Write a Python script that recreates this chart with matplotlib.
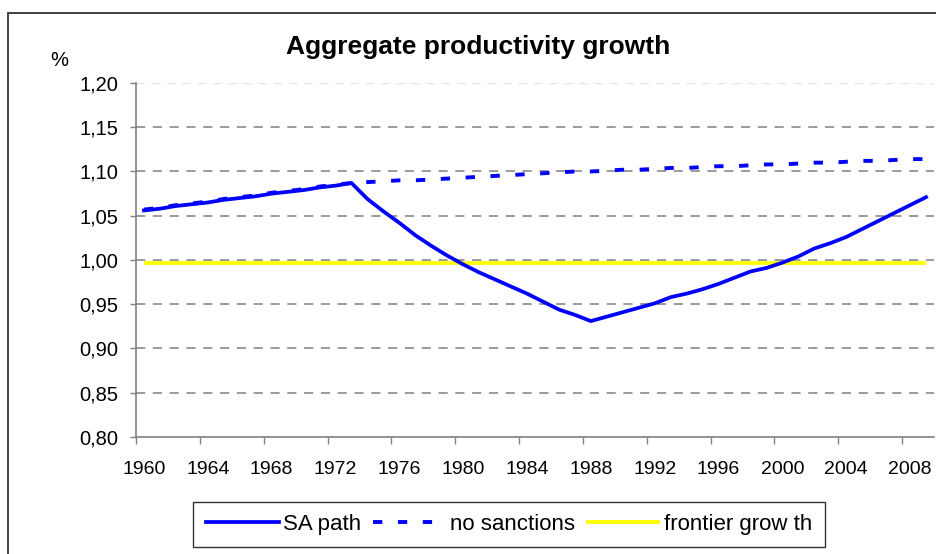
import matplotlib
matplotlib.use("Agg")
import matplotlib.pyplot as plt
from matplotlib.patches import Rectangle
from matplotlib.ticker import FixedLocator, FuncFormatter

plt.rcParams['font.family'] = ['Liberation Sans', 'DejaVu Sans']

# data
years = list(range(1960, 2010))

sa_path = [1.056, 1.058, 1.061, 1.063, 1.065, 1.068, 1.070, 1.072, 1.075, 1.077,
           1.079, 1.082, 1.084, 1.087, 1.069, 1.055, 1.042, 1.028, 1.016, 1.005,
           0.995, 0.986, 0.978, 0.970, 0.962, 0.953, 0.944, 0.938, 0.931, 0.936,
           0.941, 0.946, 0.951, 0.958, 0.962, 0.967, 0.973, 0.980, 0.987, 0.991,
           0.997, 1.004, 1.013, 1.019, 1.026, 1.035, 1.044, 1.053, 1.062, 1.071]

no_sanctions = [1.057, 1.059, 1.062, 1.064, 1.066, 1.069, 1.071, 1.073, 1.076, 1.078,
                1.080, 1.083, 1.085, 1.087, 1.088, 1.089, 1.090, 1.090, 1.091, 1.092,
                1.093, 1.094, 1.095, 1.096, 1.097, 1.098, 1.099, 1.100, 1.100, 1.101,
                1.102, 1.102, 1.103, 1.104, 1.104, 1.105, 1.106, 1.106, 1.107, 1.108,
                1.108, 1.109, 1.110, 1.110, 1.111, 1.112, 1.112, 1.113, 1.114, 1.114]

frontier_growth = [0.997] * len(years)

y_ticks = [0.80, 0.85, 0.90, 0.95, 1.00, 1.05, 1.10, 1.15, 1.20]

grey = "#808080"

fig = plt.figure(figsize=(9.37, 5.54), dpi=100)
ax = fig.add_axes([136 / 937, 1 - 437 / 554, (934 - 136) / 937, (437 - 83) / 554])

x = list(range(len(years)))

# gridlines (dashed grey) behind the data
for yv in y_ticks[1:-1]:
    ax.axhline(yv, color=grey, lw=1.1, dashes=(6, 5), zorder=1)
ax.axhline(y_ticks[-1], color="#e4e4e4", lw=1.0, dashes=(6, 5), zorder=1)

ax.plot(x, frontier_growth, color="#ffff00", lw=2.7, solid_capstyle="butt",
        label="frontier growth", zorder=2)
ax.plot(x, no_sanctions, color="#0000ff", lw=2.8, dashes=(2.4, 4.0),
        dash_capstyle="butt", label="no sanctions", zorder=3)
ax.plot(x, sa_path, color="#0000ff", lw=2.7, solid_joinstyle="round",
        label="SA path", zorder=4)

ax.set_xlim(-0.5, len(years) - 0.5)
ax.set_ylim(0.80, 1.20)

# year labels at category centres, tick marks at the category borders
ax.xaxis.set_major_locator(FixedLocator(x[::4]))
ax.set_xticklabels([str(y) for y in years[::4]])
ax.xaxis.set_minor_locator(FixedLocator([i - 0.5 for i in x[::4]]))
ax.tick_params(axis="x", which="major", length=0, pad=17, labelsize=14)
ax.tick_params(axis="x", which="minor", length=5, width=1.0, color=grey, direction="out")

ax.set_yticks(y_ticks)
ax.yaxis.set_major_formatter(FuncFormatter(lambda v, p: f"{v:.2f}".replace(".", ",")))
ax.tick_params(axis="y", length=4.5, width=1.0, color=grey, pad=8, labelsize=14.5)

for side in ["top", "right"]:
    ax.spines[side].set_visible(False)
for side in ["left", "bottom"]:
    ax.spines[side].set_color(grey)
    ax.spines[side].set_linewidth(1.2)

fig.text(478.5 / 937, 1 - 47 / 554, "Aggregate productivity growth",
         ha="center", va="center", fontsize=19, fontweight="bold")
fig.text(59 / 937, 1 - 61 / 554, "%", ha="center", va="center", fontsize=14.5)

# legend in the order SA path, no sanctions, frontier growth
handles, labels = ax.get_legend_handles_labels()
order = [2, 1, 0]
leg = fig.legend([handles[i] for i in order], ["SA path", "no sanctions", "frontier grow th"],
                 loc="center", bbox_to_anchor=(509 / 937, 1 - 524.5 / 554), ncol=3,
                 fontsize=16, frameon=True, fancybox=False, handlelength=3.3,
                 handletextpad=0.2, columnspacing=0.5, borderpad=0.55,
                 borderaxespad=0)
leg.get_frame().set_edgecolor("#000000")
leg.get_frame().set_linewidth(1.0)

# outer chart border (right and bottom edges run off the picture)
fig.patches.append(Rectangle((8 / 937, -0.05), 1.2, 1 - 13 / 554 + 0.05,
                             transform=fig.transFigure, fill=False,
                             edgecolor="#333333", lw=1.3))

fig.savefig("out.png", dpi=100)
